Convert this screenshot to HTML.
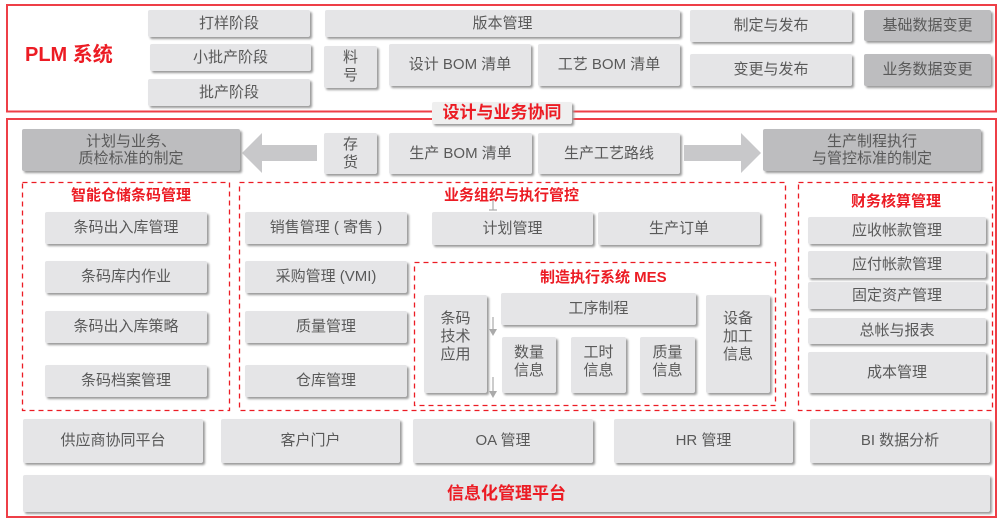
<!DOCTYPE html>
<html><head><meta charset="utf-8">
<style>
*{margin:0;padding:0;box-sizing:border-box;}
body{width:1003px;height:522px;background:#fff;position:relative;overflow:hidden;font-family:"Liberation Sans","Noto Sans CJK SC",sans-serif;}
.b{position:absolute;background:#e5e5e7;box-shadow:2px 2px 2px #9a9a9a;border-radius:2px;display:flex;align-items:center;justify-content:center;text-align:center;color:#595959;font-size:15px;line-height:18px;}
.d{background:#bdbdbf;}
.t{position:absolute;color:#ec1c24;font-weight:bold;font-size:15px;white-space:nowrap;line-height:18px;}
svg{position:absolute;left:0;top:0;}
</style></head><body>
<svg width="1003" height="522">
<rect x="7" y="5" width="989" height="106.5" fill="none" stroke="#ee3f47" stroke-width="2"/>
<rect x="7" y="119" width="989" height="398" fill="none" stroke="#ee3f47" stroke-width="2"/>
<g fill="none" stroke="#ec1c24" stroke-width="1.3" stroke-dasharray="5 4">
<rect x="22.5" y="182.5" width="207" height="228"/>
<rect x="239.5" y="182.5" width="546" height="228"/>
<rect x="414.5" y="262.5" width="361" height="143"/>
<rect x="798.5" y="182.5" width="194" height="228"/>
</g>
<polygon points="242,153 262,133 262,145 317,145 317,161 262,161 262,173" fill="#c8c8ca"/>
<polygon points="684,145 741,145 741,133 761,153 741,173 741,161 684,161" fill="#c8c8ca"/>
<g stroke="#aaa" stroke-width="1.2" fill="#aaa">
<line x1="493" y1="200" x2="493" y2="210"/>
<line x1="489" y1="210" x2="497" y2="210"/>
<line x1="493" y1="317" x2="493" y2="330"/>
<polygon points="489,329 497,329 493,336" stroke="none"/>
<line x1="493" y1="377" x2="493" y2="392"/>
<polygon points="489,391 497,391 493,398" stroke="none"/>
</g>
</svg>

<div class="t" style="left:25px;top:43px;font-size:20px;line-height:24px;">PLM 系统</div>

<div class="b" style="left:148px;top:10px;width:162px;height:27px;">打样阶段</div>
<div class="b" style="left:150px;top:44px;width:161px;height:27px;">小批产阶段</div>
<div class="b" style="left:148px;top:79px;width:162px;height:27px;">批产阶段</div>
<div class="b" style="left:325px;top:10px;width:355px;height:27px;">版本管理</div>
<div class="b" style="left:324px;top:46px;width:53px;height:42px;">料<br>号</div>
<div class="b" style="left:389px;top:44px;width:142px;height:42px;">设计 BOM 清单</div>
<div class="b" style="left:538px;top:44px;width:142px;height:42px;">工艺 BOM 清单</div>
<div class="b" style="left:690px;top:10px;width:162px;height:32px;">制定与发布</div>
<div class="b" style="left:690px;top:54px;width:162px;height:32px;">变更与发布</div>
<div class="b d" style="left:864px;top:10px;width:127px;height:31px;">基础数据变更</div>
<div class="b d" style="left:864px;top:54px;width:127px;height:32px;">业务数据变更</div>

<div class="b" style="left:432px;top:102px;width:140px;height:22px;background:#efefef;color:#ec1c24;font-weight:bold;font-size:17px;">设计与业务协同</div>

<div class="b d" style="left:22px;top:129px;width:218px;height:42px;line-height:17px;">计划与业务、<br>质检标准的制定</div>
<div class="b" style="left:324px;top:133px;width:53px;height:41px;">存<br>货</div>
<div class="b" style="left:389px;top:133px;width:143px;height:41px;">生产 BOM 清单</div>
<div class="b" style="left:538px;top:133px;width:142px;height:41px;">生产工艺路线</div>
<div class="b d" style="left:763px;top:129px;width:218px;height:42px;line-height:17px;">生产制程执行<br>与管控标准的制定</div>

<div class="t" style="left:71px;top:187px;">智能仓储条码管理</div>
<div class="b" style="left:45px;top:212px;width:162px;height:32px;">条码出入库管理</div>
<div class="b" style="left:45px;top:261px;width:162px;height:32px;">条码库内作业</div>
<div class="b" style="left:45px;top:311px;width:162px;height:32px;">条码出入库策略</div>
<div class="b" style="left:45px;top:365px;width:162px;height:32px;">条码档案管理</div>

<div class="t" style="left:444px;top:187px;">业务组织与执行管控</div>
<div class="b" style="left:245px;top:212px;width:162px;height:32px;">销售管理 ( 寄售 )</div>
<div class="b" style="left:245px;top:261px;width:162px;height:32px;">采购管理 (VMI)</div>
<div class="b" style="left:245px;top:311px;width:162px;height:32px;">质量管理</div>
<div class="b" style="left:245px;top:365px;width:162px;height:32px;">仓库管理</div>
<div class="b" style="left:432px;top:212px;width:161px;height:33px;">计划管理</div>
<div class="b" style="left:598px;top:212px;width:162px;height:33px;">生产订单</div>

<div class="t" style="left:540px;top:269px;">制造执行系统 MES</div>
<div class="b" style="left:424px;top:295px;width:63px;height:98px;padding-bottom:14px;">条码<br>技术<br>应用</div>
<div class="b" style="left:501px;top:293px;width:195px;height:32px;">工序制程</div>
<div class="b" style="left:502px;top:337px;width:54px;height:56px;padding-bottom:6px;">数量<br>信息</div>
<div class="b" style="left:571px;top:337px;width:55px;height:56px;padding-bottom:6px;">工时<br>信息</div>
<div class="b" style="left:640px;top:337px;width:55px;height:56px;padding-bottom:6px;">质量<br>信息</div>
<div class="b" style="left:706px;top:295px;width:64px;height:98px;padding-bottom:14px;">设备<br>加工<br>信息</div>

<div class="t" style="left:851px;top:193px;">财务核算管理</div>
<div class="b" style="left:808px;top:217px;width:178px;height:27px;">应收帐款管理</div>
<div class="b" style="left:808px;top:251px;width:178px;height:27px;">应付帐款管理</div>
<div class="b" style="left:808px;top:282px;width:178px;height:27px;">固定资产管理</div>
<div class="b" style="left:808px;top:318px;width:178px;height:26px;">总帐与报表</div>
<div class="b" style="left:808px;top:352px;width:178px;height:41px;">成本管理</div>

<div class="b" style="left:23px;top:419px;width:180px;height:44px;">供应商协同平台</div>
<div class="b" style="left:221px;top:419px;width:179px;height:44px;">客户门户</div>
<div class="b" style="left:413px;top:419px;width:180px;height:44px;">OA 管理</div>
<div class="b" style="left:614px;top:419px;width:179px;height:44px;">HR 管理</div>
<div class="b" style="left:810px;top:419px;width:180px;height:44px;">BI 数据分析</div>
<div class="b" style="left:23px;top:475px;width:967px;height:37px;color:#ec1c24;font-weight:bold;font-size:17px;">信息化管理平台</div>
</body></html>
